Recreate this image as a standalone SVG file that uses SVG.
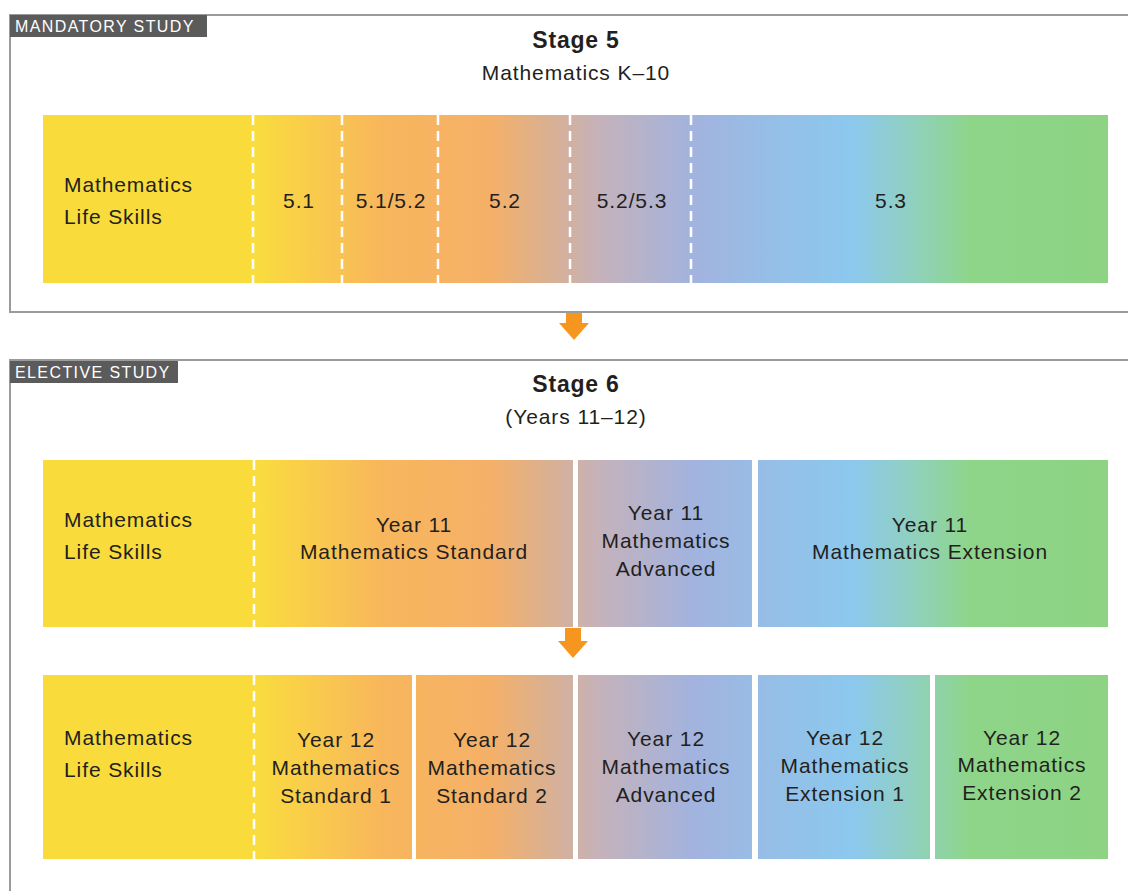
<svg xmlns="http://www.w3.org/2000/svg" width="1128" height="891" viewBox="0 0 1128 891">
<style>
  .t{font-family:"Liberation Sans",Arial,sans-serif;font-size:21px;fill:#231f20;letter-spacing:0.9px}
  .c{text-anchor:middle}
  .h{font-family:"Liberation Sans",Arial,sans-serif;font-size:23px;font-weight:bold;fill:#231f20;text-anchor:middle;letter-spacing:0.8px}
  .lab{font-family:"Liberation Sans",Arial,sans-serif;font-size:16px;fill:#ffffff;letter-spacing:1.4px}
  .frame{fill:none;stroke:#9b9b9b;stroke-width:2}
  .dash{stroke:#ffffff;stroke-width:2.5;stroke-dasharray:10 6}
  .arrow{fill:#f6961f}
  .g{fill:url(#grad)}
  .y{fill:#f9dc3c}
</style>
<defs>
  <linearGradient id="grad" gradientUnits="userSpaceOnUse" x1="43" y1="0" x2="1108" y2="0">
    <stop offset="0" stop-color="#f9dc3c"/>
    <stop offset="0.20" stop-color="#f9dc3e"/>
    <stop offset="0.27" stop-color="#f9c650"/>
    <stop offset="0.32" stop-color="#f8b65c"/>
    <stop offset="0.42" stop-color="#f5b068"/>
    <stop offset="0.47" stop-color="#dcb08e"/>
    <stop offset="0.525" stop-color="#c4b2bc"/>
    <stop offset="0.61" stop-color="#a2b3de"/>
    <stop offset="0.675" stop-color="#97bde6"/>
    <stop offset="0.76" stop-color="#8cc8ee"/>
    <stop offset="0.815" stop-color="#90d0c0"/>
    <stop offset="0.87" stop-color="#8ed58a"/>
    <stop offset="1" stop-color="#8dd383"/>
  </linearGradient>
</defs>

<g id="panel-mandatory">
  <path class="frame" d="M1130,15 H10 V312 H1130"/>
  <rect x="10" y="15" width="197" height="22" fill="#5b5b5b"/>
  <text class="lab" x="15" y="32">MANDATORY STUDY</text>
  <text class="h" x="576" y="48">Stage 5</text>
  <text class="t c" x="576" y="80">Mathematics K–10</text>
</g>

<g id="stage5-bar">
  <rect class="g" x="43" y="115" width="1065" height="168"/>
  <rect class="y" x="43" y="115" width="210" height="168"/>
  <line class="dash" x1="253" y1="115" x2="253" y2="283"/>
  <line class="dash" x1="342" y1="115" x2="342" y2="283"/>
  <line class="dash" x1="438" y1="115" x2="438" y2="283"/>
  <line class="dash" x1="570" y1="115" x2="570" y2="283"/>
  <line class="dash" x1="691" y1="115" x2="691" y2="283"/>
</g>
<g id="s5-lifeskills"><text class="t" x="64" y="192">Mathematics</text><text class="t" x="64" y="224">Life Skills</text></g>
<g id="s5-51"><text class="t c" x="299" y="208">5.1</text></g>
<g id="s5-5152"><text class="t c" x="391" y="208">5.1/5.2</text></g>
<g id="s5-52"><text class="t c" x="505" y="208">5.2</text></g>
<g id="s5-5253"><text class="t c" x="632" y="208">5.2/5.3</text></g>
<g id="s5-53"><text class="t c" x="891" y="208">5.3</text></g>

<g id="panel-elective">
  <path class="frame" d="M1130,360 H10 V895"/>
  <rect x="10" y="361" width="168" height="22" fill="#5b5b5b"/>
  <text class="lab" x="15" y="378">ELECTIVE STUDY</text>
  <text class="h" x="576" y="392">Stage 6</text>
  <text class="t c" x="576" y="424">(Years 11–12)</text>
</g>

<g id="y11-lifeskills">
  <rect class="y" x="43" y="460" width="211" height="167"/>
  <text class="t" x="64" y="527">Mathematics</text><text class="t" x="64" y="559">Life Skills</text>
</g>
<g id="y11-standard">
  <rect class="g" x="254" y="460" width="319" height="167"/>
  <text class="t c" x="414" y="532">Year 11</text><text class="t c" x="414" y="559">Mathematics Standard</text>
</g>
<g id="y11-advanced">
  <rect class="g" x="578" y="460" width="174" height="167"/>
  <text class="t c" x="666" y="520">Year 11</text><text class="t c" x="666" y="548">Mathematics</text><text class="t c" x="666" y="576">Advanced</text>
</g>
<g id="y11-extension">
  <rect class="g" x="758" y="460" width="350" height="167"/>
  <text class="t c" x="930" y="532">Year 11</text><text class="t c" x="930" y="559">Mathematics Extension</text>
</g>

<g id="y12-lifeskills">
  <rect class="y" x="43" y="675" width="211" height="184"/>
  <text class="t" x="64" y="745">Mathematics</text><text class="t" x="64" y="777">Life Skills</text>
</g>
<g id="y12-standard1">
  <rect class="g" x="254" y="675" width="158" height="184"/>
  <text class="t c" x="336" y="747">Year 12</text><text class="t c" x="336" y="775">Mathematics</text><text class="t c" x="336" y="803">Standard 1</text>
</g>
<g id="y12-standard2">
  <rect class="g" x="416" y="675" width="157" height="184"/>
  <text class="t c" x="492" y="747">Year 12</text><text class="t c" x="492" y="775">Mathematics</text><text class="t c" x="492" y="803">Standard 2</text>
</g>
<g id="y12-advanced">
  <rect class="g" x="578" y="675" width="174" height="184"/>
  <text class="t c" x="666" y="746">Year 12</text><text class="t c" x="666" y="774">Mathematics</text><text class="t c" x="666" y="802">Advanced</text>
</g>
<g id="y12-extension1">
  <rect class="g" x="758" y="675" width="172" height="184"/>
  <text class="t c" x="845" y="745">Year 12</text><text class="t c" x="845" y="773">Mathematics</text><text class="t c" x="845" y="801">Extension 1</text>
</g>
<g id="y12-extension2">
  <rect class="g" x="935" y="675" width="173" height="184"/>
  <text class="t c" x="1022" y="745">Year 12</text><text class="t c" x="1022" y="772">Mathematics</text><text class="t c" x="1022" y="800">Extension 2</text>
</g>
<g id="dividers">
  <line class="dash" x1="254" y1="460" x2="254" y2="627"/>
  <line class="dash" x1="254" y1="675" x2="254" y2="859"/>
</g>

<g id="connectors">
  <path class="arrow" d="M566,313 H582 V323 H589 L574,340 L559,323 H566 Z"/>
  <path class="arrow" d="M565,628 H581 V641 H588 L573,658 L558,641 H565 Z"/>
</g>
</svg>
